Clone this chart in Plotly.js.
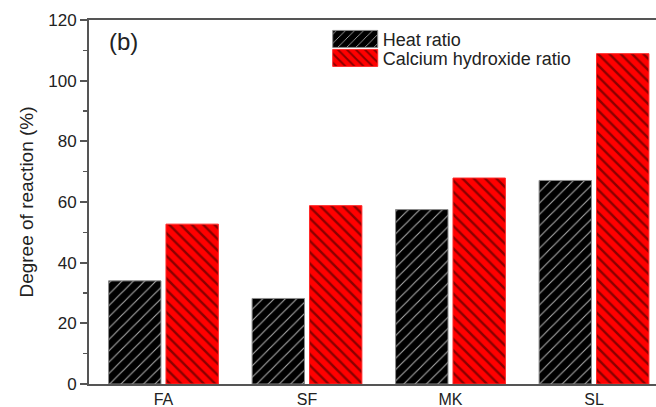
<!DOCTYPE html>
<html>
<head>
<meta charset="utf-8">
<script src="https://cdn.plot.ly/plotly-3.0.1.min.js"></script>
<style>
  html, body { margin: 0; padding: 0; background: #fff; }
  #chart { width: 656px; height: 407px; }
</style>
</head>
<body>
<div id="chart"></div>
<script>
// Materials and the two measures of their degree of reaction (%)
const categories = ['FA', 'SF', 'MK', 'SL'];
const heatRatio = [34.0, 28.2, 57.5, 67.1];
const calciumHydroxideRatio = [52.7, 58.8, 67.9, 108.9];
const seriesNames = ['Heat ratio', 'Calcium hydroxide ratio'];
const yTickValues = [0, 20, 40, 60, 80, 100, 120];

const FONT = '"Liberation Sans", Arial, sans-serif';
const TEXT = '#222';
const AXIS = '#555';

const traces = [
  {
    type: 'bar',
    name: seriesNames[0],
    x: categories,
    y: heatRatio,
    marker: {
      color: '#000000',
      line: { color: '#8a8a8a', width: 1 },
      pattern: { shape: '/', fillmode: 'replace', bgcolor: '#000000', fgcolor: '#a8a8a8', size: 8, solidity: 0.14 }
    },
    hoverinfo: 'skip'
  },
  {
    type: 'bar',
    name: seriesNames[1],
    x: categories,
    y: calciumHydroxideRatio,
    marker: {
      color: '#ff0000',
      line: { color: '#ff2a2a', width: 1 },
      pattern: { shape: '\\', fillmode: 'replace', bgcolor: '#ff0000', fgcolor: '#8a0000', size: 8, solidity: 0.3 }
    },
    hoverinfo: 'skip'
  }
];

const layout = {
  width: 656,
  height: 407,
  margin: { l: 89, r: 0, t: 20, b: 23, pad: 0 },
  paper_bgcolor: '#ffffff',
  plot_bgcolor: '#ffffff',
  font: { family: FONT, color: TEXT, size: 16 },
  barmode: 'group',
  bargap: 0.2,
  bargroupgap: 0.087,
  showlegend: true,
  legend: {
    x: 0.421, y: 0.998, xanchor: 'left', yanchor: 'top',
    bgcolor: 'rgba(0,0,0,0)',
    borderwidth: 0,
    itemwidth: 45,
    tracegroupgap: 0,
    font: { family: FONT, size: 18, color: TEXT }
  },
  xaxis: {
    type: 'category',
    range: [-0.519, 3.432],
    showline: true, mirror: true,
    linecolor: AXIS, linewidth: 2,
    ticks: '', showgrid: false, zeroline: false,
    tickfont: { family: FONT, size: 16, color: TEXT }
  },
  yaxis: {
    range: [0, 120],
    tickvals: yTickValues,
    showline: true, linecolor: AXIS, linewidth: 2,
    ticks: 'outside', ticklen: 7, tickwidth: 2, tickcolor: AXIS,
    minor: { dtick: 10, ticks: 'outside', ticklen: 4, tickwidth: 1.5, tickcolor: AXIS },
    showgrid: false, zeroline: false,
    tickfont: { family: FONT, size: 17, color: TEXT },
    title: { text: 'Degree of reaction (%)', font: { family: FONT, size: 19, color: TEXT }, standoff: 10 }
  },
  annotations: [
    {
      text: '(b)', xref: 'paper', yref: 'paper',
      x: 0.031, y: 0.94, xanchor: 'left', yanchor: 'middle',
      showarrow: false, font: { family: FONT, size: 24, color: TEXT }
    }
  ]
};

Plotly.newPlot('chart', traces, layout, { staticPlot: true, displayModeBar: false }).then(function (gd) {
  // wider legend swatches
  gd.querySelectorAll('.legend .legendpoints path').forEach(function (p) {
    p.setAttribute('d', 'M22.5,8.5H-22.5V-8.5H22.5Z');
  });
  // tighter row spacing between the two legend entries
  const rows = gd.querySelectorAll('.legend .traces');
  if (rows.length === 2) {
    const m = /translate\(([-\d.]+),\s*([-\d.]+)\)/.exec(rows[0].getAttribute('transform') || '');
    if (m) {
      rows[1].setAttribute('transform', 'translate(' + m[1] + ',' + (parseFloat(m[2]) + 19) + ')');
    }
  }
});
</script>
</body>
</html>
